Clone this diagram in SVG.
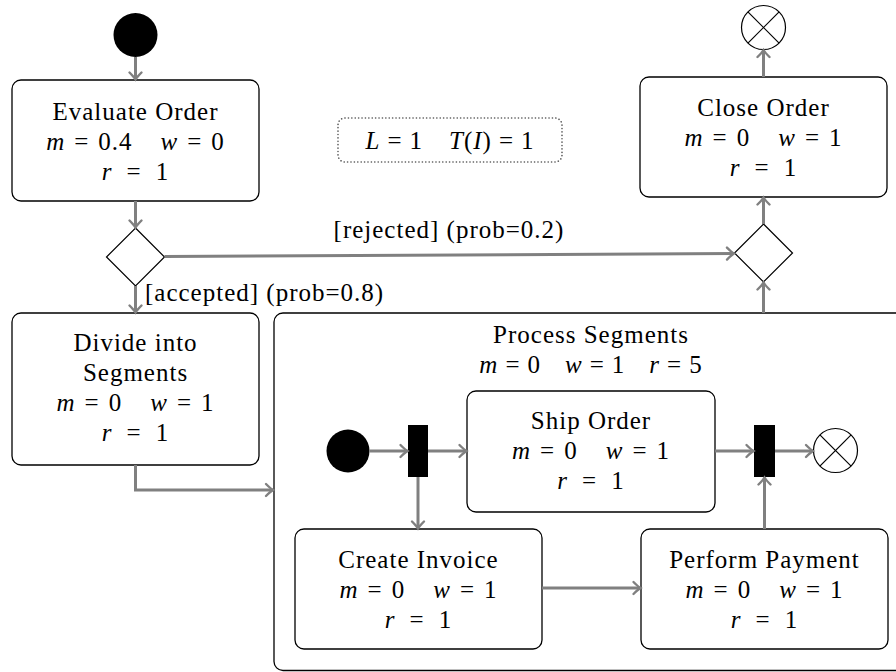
<svg xmlns="http://www.w3.org/2000/svg" width="896" height="672" viewBox="0 0 896 672">
<style>
  .box { fill: #ffffff; stroke: #000000; stroke-width: 1.3; }
  .dec { fill: #ffffff; stroke: #000000; stroke-width: 1.2; }
  .ini { fill: #000000; }
  .bar { fill: #000000; }
  .fin { fill: #ffffff; stroke: #000000; stroke-width: 1.2; }
  .edge { fill: none; stroke: #808080; stroke-width: 3; marker-end: url(#arr); }
  .note { fill: none; stroke: #555555; stroke-width: 1.6; stroke-dasharray: 0.1 3.3; stroke-linecap: round; }
  text { font-family: "Liberation Serif", "Times New Roman", serif; font-size: 25px; letter-spacing: 1px; fill: #000000; text-anchor: middle; }
  .i { font-style: italic; }
</style>
<defs>
  <marker id="arr" markerUnits="userSpaceOnUse" markerWidth="16" markerHeight="16" viewBox="-10 -8 12 16" refX="0" refY="0" orient="auto" overflow="visible">
    <path d="M-7,-6 Q-2.5,-1.5 0,0 Q-2.5,1.5 -7,6" fill="none" stroke="#808080" stroke-width="2.4" stroke-linecap="round"/>
  </marker>
</defs>

<g id="process-segments">
  <rect class="box" x="274" y="313" width="660" height="357.5" rx="9"/>
  <text x="591" y="343">Process Segments</text>
  <text x="591" y="373"><tspan class="i">m</tspan><tspan dx="7">=</tspan><tspan dx="7">0</tspan><tspan class="i" dx="24">w</tspan><tspan dx="7">=</tspan><tspan dx="7">1</tspan><tspan class="i" dx="24">r</tspan><tspan dx="7">=</tspan><tspan dx="7">5</tspan></text>
</g>

<g id="start">
  <circle class="ini" cx="135.5" cy="35" r="22"/>
</g>

<g id="evaluate-order">
  <rect class="box" x="12" y="80" width="247" height="121" rx="9"/>
  <text x="135.5" y="120">Evaluate Order</text>
  <text x="135.5" y="150"><tspan class="i">m</tspan><tspan dx="9">=</tspan><tspan dx="9">0.4</tspan><tspan class="i" dx="28">w</tspan><tspan dx="9">=</tspan><tspan dx="9">0</tspan></text>
  <text x="135.5" y="180"><tspan class="i">r</tspan><tspan dx="14">=</tspan><tspan dx="14">1</tspan></text>
</g>

<g id="decision">
  <polygon class="dec" points="135.5,228 164.5,257 135.5,286 106.5,257"/>
</g>

<g id="divide-into-segments">
  <rect class="box" x="12" y="313" width="247" height="152" rx="9"/>
  <text x="135.5" y="351">Divide into</text>
  <text x="135.5" y="381">Segments</text>
  <text x="135.5" y="411"><tspan class="i">m</tspan><tspan dx="9">=</tspan><tspan dx="9">0</tspan><tspan class="i" dx="28">w</tspan><tspan dx="9">=</tspan><tspan dx="9">1</tspan></text>
  <text x="135.5" y="441"><tspan class="i">r</tspan><tspan dx="14">=</tspan><tspan dx="14">1</tspan></text>
</g>

<g id="constants">
  <rect class="note" x="338" y="118" width="224" height="44" rx="7"/>
  <text x="450" y="149"><tspan class="i">L</tspan><tspan dx="7">=</tspan><tspan dx="7">1</tspan><tspan class="i" dx="26">T</tspan><tspan>(</tspan><tspan class="i">I</tspan><tspan>)</tspan><tspan dx="7">=</tspan><tspan dx="7">1</tspan></text>
</g>

<g id="merge">
  <polygon class="dec" points="763.5,224 792.5,253 763.5,282 734.5,253"/>
</g>

<g id="close-order">
  <rect class="box" x="640" y="77" width="247" height="120" rx="9"/>
  <text x="763.5" y="116">Close Order</text>
  <text x="763.5" y="146"><tspan class="i">m</tspan><tspan dx="9">=</tspan><tspan dx="9">0</tspan><tspan class="i" dx="28">w</tspan><tspan dx="9">=</tspan><tspan dx="9">1</tspan></text>
  <text x="763.5" y="176"><tspan class="i">r</tspan><tspan dx="14">=</tspan><tspan dx="14">1</tspan></text>
</g>

<g id="end">
  <circle class="fin" cx="763.5" cy="27.5" r="22"/>
  <line x1="747.9" y1="11.9" x2="779.1" y2="43.1" stroke="#000" stroke-width="1.2"/>
  <line x1="779.1" y1="11.9" x2="747.9" y2="43.1" stroke="#000" stroke-width="1.2"/>
</g>

<g id="inner-start">
  <circle class="ini" cx="348" cy="451" r="21.5"/>
</g>

<g id="fork">
  <rect class="bar" x="408" y="425" width="20" height="52"/>
</g>

<g id="ship-order">
  <rect class="box" x="467" y="391" width="248" height="121" rx="9"/>
  <text x="591" y="429">Ship Order</text>
  <text x="591" y="459"><tspan class="i">m</tspan><tspan dx="9">=</tspan><tspan dx="9">0</tspan><tspan class="i" dx="28">w</tspan><tspan dx="9">=</tspan><tspan dx="9">1</tspan></text>
  <text x="591" y="489"><tspan class="i">r</tspan><tspan dx="14">=</tspan><tspan dx="14">1</tspan></text>
</g>

<g id="join">
  <rect class="bar" x="754" y="425" width="21" height="52"/>
</g>

<g id="inner-end">
  <circle class="fin" cx="835.5" cy="450.5" r="22"/>
  <line x1="819.9" y1="434.9" x2="851.1" y2="466.1" stroke="#000" stroke-width="1.2"/>
  <line x1="851.1" y1="434.9" x2="819.9" y2="466.1" stroke="#000" stroke-width="1.2"/>
</g>

<g id="create-invoice">
  <rect class="box" x="295" y="529" width="247" height="120" rx="9"/>
  <text x="418.5" y="568">Create Invoice</text>
  <text x="418.5" y="598"><tspan class="i">m</tspan><tspan dx="9">=</tspan><tspan dx="9">0</tspan><tspan class="i" dx="28">w</tspan><tspan dx="9">=</tspan><tspan dx="9">1</tspan></text>
  <text x="418.5" y="628"><tspan class="i">r</tspan><tspan dx="14">=</tspan><tspan dx="14">1</tspan></text>
</g>

<g id="perform-payment">
  <rect class="box" x="641" y="529" width="247" height="120" rx="9"/>
  <text x="764.5" y="568">Perform Payment</text>
  <text x="764.5" y="598"><tspan class="i">m</tspan><tspan dx="9">=</tspan><tspan dx="9">0</tspan><tspan class="i" dx="28">w</tspan><tspan dx="9">=</tspan><tspan dx="9">1</tspan></text>
  <text x="764.5" y="628"><tspan class="i">r</tspan><tspan dx="14">=</tspan><tspan dx="14">1</tspan></text>
</g>

<g id="connectors">
  <line class="edge" x1="135.5" y1="57" x2="135.5" y2="79.5"/>
  <line class="edge" x1="135.5" y1="201" x2="135.5" y2="227.5"/>
  <line class="edge" x1="135.5" y1="286" x2="135.5" y2="312.5"/>
  <line class="edge" x1="164.5" y1="256.5" x2="734" y2="253.5"/>
  <polyline class="edge" points="135.5,465 135.5,490 273,490"/>
  <line class="edge" x1="763.5" y1="313" x2="763.5" y2="282.5"/>
  <line class="edge" x1="763.5" y1="224" x2="763.5" y2="197.5"/>
  <line class="edge" x1="763.5" y1="77" x2="763.5" y2="50"/>
  <line class="edge" x1="369.5" y1="451" x2="407.5" y2="451"/>
  <line class="edge" x1="428" y1="451" x2="466.5" y2="451"/>
  <line class="edge" x1="418" y1="477" x2="418" y2="528.5"/>
  <line class="edge" x1="715" y1="451" x2="753.5" y2="451"/>
  <line class="edge" x1="775" y1="451" x2="813" y2="451"/>
  <line class="edge" x1="542" y1="588" x2="640.5" y2="588"/>
  <line class="edge" x1="764.5" y1="529" x2="764.5" y2="477.5"/>
  <text x="449" y="238">[rejected] (prob=0.2)</text>
  <text x="145" y="301" style="text-anchor: start">[accepted] (prob=0.8)</text>
</g>
</svg>
